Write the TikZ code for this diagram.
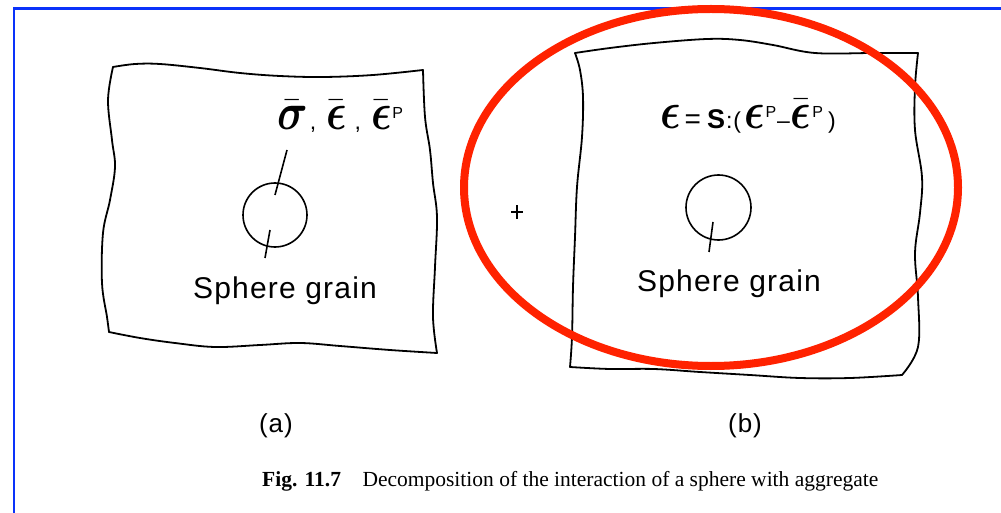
\documentclass[tikz,border=0pt]{standalone}
\usepackage{amsmath}
\usepackage{graphicx}
\usepackage{fontspec}
\newfontfamily\plotfont[LetterSpace=4]{Liberation Sans}
\newfontfamily\plainsans{Liberation Sans}
\newfontfamily\capfont{Liberation Serif}
\newcommand\symsc[1]{\scalebox{1.7}[2.1]{$#1$}}
\newcommand\supP{\raisebox{11pt}{\plainsans\fontsize{16}{16}\selectfont P}}
\definecolor{markred}{RGB}{255,34,0}
\definecolor{frameblue}{RGB}{10,50,250}
\tikzset{
  outline/.style={line width=1.8pt, line join=round, line cap=round},
  grain/.style={circle, draw, line width=1.6pt, inner sep=0pt, minimum size=64pt},
  leader/.style={line width=1.6pt},
  formula/.style={anchor=base west, inner sep=0pt, font=\plainsans\fontsize{23}{26}\selectfont},
  grainlabel/.style={anchor=base, inner sep=0pt, font=\plotfont\fontsize{30}{34}\selectfont},
  sublabel/.style={anchor=base, inner sep=0pt, font=\plotfont\fontsize{26}{30}\selectfont},
}
\begin{document}
\begin{tikzpicture}[x=1pt,y=-1pt]
\useasboundingbox (0,0) rectangle (1001,513);
\fill[white] (0,0) rectangle (1001,513);
% blue frame
\draw[frameblue, line width=2.7pt] (14,513) -- (14,8.3) -- (1001,8.3);

% panel (a)
\draw[outline] plot[smooth, tension=0.6] coordinates {(113,67) (135,64) (160,64) (200,68) (240,73) (280,76) (323,77) (373,75) (423,70)};
\draw[outline] plot[smooth, tension=0.6] coordinates {(423,70) (425,117) (430,150) (433,183) (437,217) (435,267) (433,317) (437,353)};
\draw[outline] plot[smooth, tension=0.6] coordinates {(109,332) (140,338) (175,343) (215,347) (260,345) (300,343) (340,346) (390,350) (437,353)};
\draw[outline] plot[smooth, tension=0.6] coordinates {(113,67) (108,100) (112,140) (115,167) (110,200) (103,233) (102,283) (107,317) (109,332)};

\node[grain] (grainA) at (275,215) {};
\node[formula] (formA) at (277,130) {\symsc{\bar{\boldsymbol{\sigma}}}\hspace{2pt},\hspace{10pt}\symsc{\bar{\boldsymbol{\epsilon}}}\hspace{8pt},\hspace{10pt}\symsc{\bar{\boldsymbol{\epsilon}}}\hspace{1pt}\supP};
\coordinate (la1) at (287,150);
\coordinate (la2) at (275,195);
\coordinate (lb1) at (270,230);
\coordinate (lb2) at (265,258);
\draw[leader] (la1) -- (la2);
\draw[leader] (lb1) -- (lb2);
\node[grainlabel] (textA) at (285,298) {Sphere grain};
\node[sublabel] (capA) at (276,432) {(a)};

% plus sign
\coordinate (plusc) at (517,212);
\draw[line width=1.2pt] ([xshift=-6pt]plusc) -- ([xshift=6pt]plusc);
\draw[line width=1.2pt] ([yshift=-7pt]plusc) -- ([yshift=7pt]plusc);

% panel (b)
\draw[outline] plot[smooth, tension=0.6] coordinates {(575,53) (610,48) (654,43) (707,39) (740,40) (773,45) (815,53) (873,53) (918,53)};
\draw[outline] plot[smooth, tension=0.6] coordinates {(918,53) (915,87) (915,130) (922,177) (920,213) (915,253) (918,297) (918,347) (902,375)};
\draw[outline] plot[smooth, tension=0.6] coordinates {(570,367) (610,369) (654,369) (700,372) (750,375) (800,378) (850,378) (902,375)};
\draw[outline] plot[smooth, tension=0.6] coordinates {(575,53) (580,70) (583,97) (582,137) (577,187) (575,237) (573,287) (572,337) (570,367)};

\node[grain, minimum size=65pt] (grainB) at (718.5,207.5) {};
\node[formula] (formB) at (660,129) {\symsc{\boldsymbol{\epsilon}}\hspace{4pt}{\fontsize{28}{28}\selectfont=}\hspace{6pt}{\fontsize{27}{27}\selectfont\bfseries S}\hspace{1pt}:\hspace{1pt}(\hspace{3pt}\symsc{\boldsymbol{\epsilon}}\hspace{1pt}\supP\hspace{1pt}\textendash\hspace{1pt}\symsc{\bar{\boldsymbol{\epsilon}}}\hspace{1pt}\supP\hspace{5pt})};
\coordinate (lc1) at (713,222);
\coordinate (lc2) at (709,252);
\draw[leader] (lc1) -- (lc2);
\node[grainlabel] (textB) at (729,291) {Sphere grain};
\node[sublabel] (capB) at (745,432) {(b)};

% caption
\node[anchor=base west, inner sep=0pt, font=\capfont\fontsize{21.5}{24}\selectfont] (caption) at (262,486) {\textbf{Fig. 11.7}\quad Decomposition of the interaction of a sphere with aggregate};

% red marker ellipse
\draw[markred, line width=8pt] (711,187.5) ellipse [x radius=247, y radius=178.5];
\end{tikzpicture}
\end{document}
